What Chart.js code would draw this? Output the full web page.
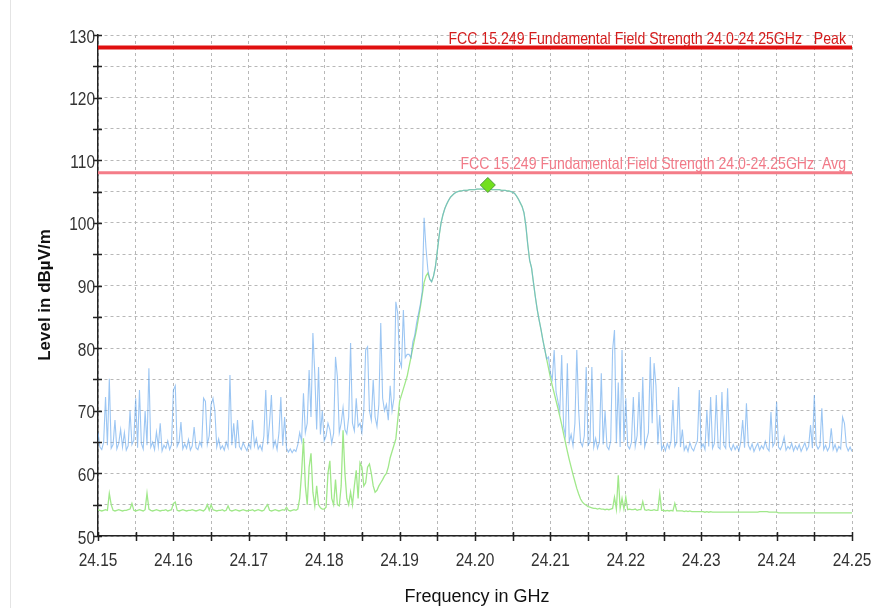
<!DOCTYPE html>
<html lang="en">
<head>
    <meta charset="UTF-8">
    <title>Field Strength Scan 24.15-24.25 GHz</title>
    <script src="https://cdn.jsdelivr.net/npm/chart.js"></script>
    <style>
        body {
            margin: 0;
            background-color: #ffffff;
        }

        .wrap {
            position: relative;
            width: 876px;
            height: 608px;
        }

        .frame {
            position: absolute;
            left: 10px;
            top: 0;
            width: 1px;
            height: 608px;
            background-color: #e4e4e4;
        }

        canvas {
            position: absolute;
            left: 0;
            top: 0;
        }
    </style>
</head>
<body>
    <div class="wrap">
        <div class="frame"></div>
        <canvas id="scan" width="876" height="608"></canvas>
    </div>

    <script>
        // sweep grid (GHz)
        const freqStart = 24.15;
        const freqStep = 0.00025;

        // max peak trace, dBµV/m (blue)
        const peakTrace = [
            66.5, 64.2, 63.8, 65.0, 72.2, 64.5, 75.1, 64.0, 64.6, 68.5,
            63.9, 64.8, 67.0, 64.2, 66.5, 63.7, 64.4, 70.0, 64.6, 65.3,
            72.0, 64.1, 73.3, 64.8, 63.9, 70.0, 64.5, 76.8, 64.2, 65.0,
            63.8, 66.6, 64.3, 68.0, 63.6, 64.5, 64.0, 65.2, 63.8, 64.6,
            73.3, 74.0, 64.3, 65.0, 68.2, 63.9, 64.7, 64.0, 65.4, 63.7,
            64.4, 67.4, 64.1, 63.8, 65.0, 64.3, 72.0, 71.5, 64.6, 66.0,
            71.0, 72.0, 70.0, 64.2, 65.5, 63.9, 64.4, 63.7, 65.0, 64.1,
            75.7, 64.5, 68.0, 64.0, 68.5, 64.3, 63.8, 64.9, 64.2, 63.6,
            64.7, 64.0, 68.5, 64.4, 65.6, 63.9, 64.5, 63.7, 66.0, 73.3,
            64.6, 68.0, 72.5, 64.2, 65.2, 63.8, 66.5, 72.2, 64.4, 69.0,
            64.0, 63.4, 63.9, 63.3, 63.8, 63.5, 64.6, 66.5, 65.2, 72.8,
            66.5, 68.0, 76.5, 69.0, 82.4, 76.0, 67.0, 77.0, 66.2, 70.0,
            65.2, 66.0, 68.0, 67.0, 64.8, 66.4, 78.6, 75.4, 66.5, 68.0,
            70.5, 67.0, 66.3, 69.0, 80.8, 68.0, 66.8, 72.0, 67.5, 68.0,
            66.5, 70.0, 79.7, 80.2, 70.0, 68.5, 75.0, 69.0, 67.5, 71.0,
            84.0, 72.0, 70.0, 71.0, 68.5, 74.0, 70.0, 72.0, 87.4, 85.6,
            78.0, 77.0, 86.1, 78.5, 79.0, 79.0, 78.5, 81.0, 82.0, 84.0,
            85.5, 87.0, 89.0, 100.8, 96.0, 92.5, 91.0, 90.6, 91.5, 93.0,
            95.5, 98.0, 100.0, 101.3, 102.3, 103.0, 103.6, 104.1, 104.4, 104.7,
            104.9, 105.0, 105.1, 105.1, 105.2, 105.2, 105.2, 105.3, 105.3, 105.3,
            105.3, 105.4, 105.4, 105.4, 105.4, 105.4, 105.4, 105.4, 105.4, 105.3,
            105.3, 105.3, 105.3, 105.3, 105.2, 105.2, 105.2, 105.1, 105.1, 105.0,
            104.9, 104.7, 104.3, 103.8, 103.2, 102.6, 101.6, 99.5, 96.5, 94.0,
            92.8, 90.5, 88.2, 86.2, 84.5, 83.0, 81.3, 79.8, 78.3, 78.6,
            76.0, 75.0, 79.7, 73.0, 71.5, 70.0, 78.9, 67.5, 66.0, 77.6,
            65.0, 66.2, 64.4, 68.0, 79.7, 70.0, 65.0, 64.3, 66.0, 77.0,
            64.5, 65.0, 77.0, 64.2, 65.6, 64.0, 65.0, 76.0, 64.6, 70.0,
            64.3, 63.8, 65.2, 79.7, 82.9, 64.8, 74.5, 64.2, 79.7, 65.0,
            72.0, 64.4, 63.9, 65.0, 72.2, 64.3, 66.0, 73.0, 64.5, 75.4,
            64.2, 65.3, 66.5, 78.6, 68.0, 77.6, 74.0, 64.6, 69.3, 63.8,
            64.5, 63.6, 64.8, 64.0, 65.2, 71.7, 64.3, 65.0, 73.8, 64.2,
            67.0, 63.7, 64.4, 63.5, 64.9, 64.0, 63.6, 64.5, 65.2, 73.3,
            64.1, 64.7, 63.8, 70.1, 64.3, 72.2, 64.0, 64.8, 72.5, 64.2,
            63.9, 73.0, 64.5, 64.0, 73.6, 64.3, 63.7, 64.6, 63.8, 64.4,
            63.6, 65.0, 68.5, 64.1, 71.2, 64.5, 63.8, 64.7, 63.5, 64.2,
            64.8, 63.7, 64.4, 63.9, 65.1, 64.0, 63.6, 69.8, 64.3, 64.9,
            71.4, 64.2, 63.8, 64.5, 65.8, 63.7, 64.3, 63.9, 64.8, 63.6,
            64.4, 63.8, 64.6, 63.5, 64.2, 64.9, 63.7, 64.3, 67.7, 64.0,
            72.5, 64.6, 63.9, 64.4, 70.4, 63.8, 64.5, 63.6, 64.2, 67.2,
            63.8, 64.6, 63.5, 64.3, 63.9, 69.0, 68.0, 64.4, 63.6, 64.2,
            63.5
        ];

        // average trace, dBµV/m (green)
        const avgTrace = [
            54.2, 54.1, 54.0, 54.1, 54.2, 54.1, 56.8, 55.0, 54.1, 54.0,
            54.1, 54.2, 54.1, 54.0, 54.1, 54.1, 54.2, 54.3, 55.2, 54.1,
            54.0, 54.1, 54.2, 54.1, 54.0, 54.2, 56.8, 54.3, 54.1, 54.0,
            54.1, 54.2, 54.1, 54.0, 54.1, 54.1, 54.2, 54.0, 54.1, 54.2,
            55.2, 55.4, 54.1, 54.0, 54.1, 54.2, 54.1, 54.0, 54.1, 54.1,
            54.2, 54.1, 54.0, 54.1, 54.2, 54.1, 54.0, 54.3, 55.0, 54.1,
            55.0, 54.2, 54.1, 54.0, 54.1, 54.1, 54.2, 54.0, 54.1, 54.8,
            54.1, 54.0, 54.1, 54.2, 54.1, 54.0, 54.1, 54.2, 54.1, 54.0,
            54.1, 54.1, 54.2, 54.0, 54.1, 54.2, 54.1, 54.0, 54.1, 54.6,
            55.0, 54.1, 54.0, 54.1, 54.2, 54.1, 54.0, 54.1, 54.2, 54.1,
            54.6, 54.1, 54.0, 54.1, 54.2, 54.1, 54.3, 56.0, 60.0, 65.6,
            58.0, 55.0, 61.0, 63.2, 57.0, 54.8, 58.0, 55.0, 54.5, 54.3,
            54.3, 54.6, 60.0, 62.0, 56.0, 55.0, 59.0, 55.0, 54.8, 58.0,
            66.9, 60.0, 56.0, 55.0, 57.0, 55.0, 58.0, 60.5, 56.0, 61.7,
            61.0, 58.0, 58.5, 61.0, 61.5, 60.0, 58.0, 57.0, 57.3, 58.0,
            58.5, 59.0, 59.6, 60.0, 61.0, 62.5, 63.5, 64.5, 65.5, 68.5,
            71.5, 72.5, 73.5, 74.5, 75.5, 77.0, 78.5, 80.0, 81.5, 83.0,
            84.8, 86.5, 88.5, 90.5, 91.5, 92.0, 91.0, 90.6, 91.5, 93.0,
            95.5, 98.0, 100.0, 101.3, 102.3, 103.0, 103.6, 104.1, 104.4, 104.7,
            104.9, 105.0, 105.1, 105.1, 105.2, 105.2, 105.2, 105.3, 105.3, 105.3,
            105.3, 105.4, 105.4, 105.4, 105.4, 105.4, 105.4, 105.4, 105.4, 105.3,
            105.3, 105.3, 105.3, 105.3, 105.2, 105.2, 105.2, 105.1, 105.1, 105.0,
            104.9, 104.7, 104.3, 103.8, 103.2, 102.6, 101.6, 99.5, 96.5, 94.0,
            92.8, 90.5, 88.2, 86.2, 84.5, 83.0, 81.3, 79.8, 78.3, 76.8,
            75.3, 74.0, 72.8, 71.6, 70.4, 69.1, 67.8, 66.3, 64.9, 63.5,
            62.2, 61.0, 59.8, 58.7, 57.6, 56.7, 55.9, 55.4, 55.1, 54.9,
            54.7, 54.6, 54.5, 54.4, 54.4, 54.3, 54.4, 54.3, 54.3, 54.2,
            54.3, 54.2, 54.3, 54.4, 56.2, 54.3, 59.7, 54.4, 56.0, 54.3,
            56.2, 54.2, 54.3, 54.2, 54.2, 54.3, 54.1, 54.2, 54.2, 55.5,
            54.2, 54.1, 54.2, 54.1, 54.1, 54.2, 54.1, 54.1, 56.8, 54.1,
            54.1, 54.0, 54.1, 54.0, 54.1, 54.0, 55.2, 54.0, 54.0, 54.0,
            54.0, 53.9, 54.0, 53.9, 54.0, 53.9, 53.9, 53.9, 53.9, 53.9,
            53.9, 53.9, 53.8, 53.9, 53.8, 53.9, 53.8, 53.8, 53.8, 53.8,
            53.8, 53.8, 53.8, 53.8, 53.8, 53.8, 53.8, 53.8, 53.8, 53.8,
            53.8, 53.8, 53.8, 53.8, 53.8, 53.8, 53.8, 53.8, 53.8, 53.8,
            53.8, 53.9, 53.9, 53.9, 53.9, 53.9, 53.8, 53.8, 53.8, 53.8,
            53.8, 53.7, 53.7, 53.7, 53.7, 53.7, 53.7, 53.7, 53.7, 53.7,
            53.7, 53.7, 53.7, 53.7, 53.7, 53.7, 53.7, 53.7, 53.7, 53.7,
            53.7, 53.7, 53.7, 53.7, 53.7, 53.7, 53.7, 53.7, 53.7, 53.7,
            53.7, 53.7, 53.7, 53.7, 53.7, 53.7, 53.7, 53.7, 53.7, 53.7,
            53.7
        ];

        // limit lines
        const limitPeak = 128;
        const limitAvg = 108;
        const limitPeakLabel = 'FCC 15.249 Fundamental Field Strength 24.0-24.25GHz   Peak';
        const limitAvgLabel = 'FCC 15.249 Fundamental Field Strength 24.0-24.25GHz  Avg';

        // marker
        const markerFreq = 24.2017;
        const markerLevel = 106.05;

        const freqRange = [24.15, 24.25];
        const levelRange = [50, 130];

        const xTitle = 'Frequency in GHz';
        const yTitle = 'Level in dBµV/m';

        const sans = '"Liberation Sans", Arial, sans-serif';
        const squeeze = 0.86; // the original labels are drawn narrow

        const freqs = peakTrace.map((v, i) => freqStart + i * freqStep);
        const toPoints = levels => levels.map((v, i) => ({ x: freqs[i], y: v }));

        function narrowText(ctx, text, x, y, align, sx) {
            ctx.save();
            ctx.translate(x, y);
            ctx.scale(sx, 1);
            ctx.textAlign = align;
            ctx.fillText(text, 0, 0);
            ctx.restore();
        }

        const overlay = {
            id: 'overlay',
            afterDraw(chart) {
                const { ctx, chartArea: a, scales: { x, y } } = chart;
                ctx.save();

                // ticks crossing the axes
                ctx.strokeStyle = '#222';
                ctx.lineWidth = 1.5;
                ctx.beginPath();
                y.ticks.forEach(t => {
                    const py = Math.round(y.getPixelForValue(t.value)) + 0.5;
                    ctx.moveTo(a.left - 5, py);
                    ctx.lineTo(a.left + 4, py);
                });
                x.ticks.forEach(t => {
                    const px = Math.round(x.getPixelForValue(t.value)) + 0.5;
                    ctx.moveTo(px, a.bottom - 4);
                    ctx.lineTo(px, a.bottom + 5);
                });
                ctx.stroke();

                // tick labels
                ctx.fillStyle = '#333';
                ctx.font = '18px ' + sans;
                ctx.textBaseline = 'alphabetic';
                y.ticks.forEach(t => {
                    if (t.value % 10 !== 0) return;
                    narrowText(ctx, String(t.value), a.left - 3, y.getPixelForValue(t.value) + 7.5, 'right', squeeze);
                });
                x.ticks.forEach((t, i) => {
                    if (i % 2 !== 0) return;
                    narrowText(ctx, t.value.toFixed(2), x.getPixelForValue(t.value), 565.5, 'center', squeeze);
                });

                // limit labels
                ctx.font = '16.5px ' + sans;
                ctx.fillStyle = '#d41c1c';
                narrowText(ctx, limitPeakLabel, a.right - 6, y.getPixelForValue(limitPeak) - 4, 'right', 0.855);
                ctx.fillStyle = '#f27a88';
                narrowText(ctx, limitAvgLabel, a.right - 6, y.getPixelForValue(limitAvg) - 3.5, 'right', 0.855);

                // axis titles
                ctx.fillStyle = '#111';
                ctx.textAlign = 'center';
                ctx.textBaseline = 'middle';
                ctx.font = '18px ' + sans;
                ctx.fillText(xTitle, (a.left + a.right) / 2 + 2, 597);
                ctx.translate(45, 295);
                ctx.rotate(-Math.PI / 2);
                ctx.font = 'bold 17px ' + sans;
                ctx.fillText(yTitle, 0, 0);

                ctx.restore();
            }
        };

        new Chart(document.getElementById('scan'), {
            type: 'line',
            data: {
                datasets: [
                    {
                        label: 'Marker',
                        type: 'scatter',
                        data: [{ x: markerFreq, y: markerLevel }],
                        pointStyle: 'rectRot',
                        pointRadius: 7.5,
                        backgroundColor: '#72e01e',
                        borderColor: '#4c9a3a',
                        borderWidth: 1,
                        order: 0
                    },
                    {
                        label: 'Peak limit',
                        data: [{ x: freqRange[0], y: limitPeak }, { x: freqRange[1], y: limitPeak }],
                        borderColor: '#e01010',
                        borderWidth: 4,
                        pointRadius: 0,
                        order: 1
                    },
                    {
                        label: 'Avg limit',
                        data: [{ x: freqRange[0], y: limitAvg }, { x: freqRange[1], y: limitAvg }],
                        borderColor: '#f47c88',
                        borderWidth: 3,
                        pointRadius: 0,
                        order: 1
                    },
                    {
                        label: 'Max Peak',
                        data: toPoints(peakTrace),
                        borderColor: 'rgba(90, 160, 235, 0.6)',
                        borderWidth: 1.1,
                        pointRadius: 0,
                        order: 2
                    },
                    {
                        label: 'Average',
                        data: toPoints(avgTrace),
                        borderColor: '#a0e88a',
                        borderWidth: 1.3,
                        pointRadius: 0,
                        order: 3
                    }
                ]
            },
            options: {
                responsive: false,
                animation: false,
                devicePixelRatio: 1,
                layout: { padding: { top: 35, right: 24, left: 0, bottom: 0 } },
                plugins: {
                    legend: { display: false },
                    tooltip: { enabled: false }
                },
                scales: {
                    x: {
                        type: 'linear',
                        min: freqRange[0],
                        max: freqRange[1],
                        afterFit: s => { s.height = 72; },
                        ticks: { stepSize: 0.005, autoSkip: false, display: false },
                        grid: { color: '#b8b8b8', lineWidth: 1, drawTicks: false },
                        border: { color: '#222', width: 1.5, dash: [3, 3] }
                    },
                    y: {
                        min: levelRange[0],
                        max: levelRange[1],
                        afterFit: s => { s.width = 98; },
                        ticks: { stepSize: 5, display: false },
                        grid: { color: '#b8b8b8', lineWidth: 1, drawTicks: false },
                        border: { color: '#222', width: 1.5, dash: [3, 3] }
                    }
                }
            },
            plugins: [overlay]
        });
    </script>
</body>
</html>
